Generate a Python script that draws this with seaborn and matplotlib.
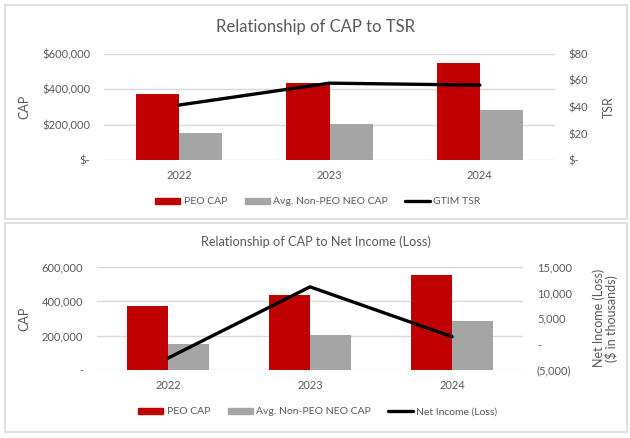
import numpy as np
import pandas as pd
import seaborn as sns
import matplotlib
matplotlib.use('Agg')
import matplotlib.pyplot as plt
from matplotlib.ticker import FuncFormatter
from matplotlib.patches import Rectangle, Patch
from matplotlib.lines import Line2D

# values
years = ['2022', '2023', '2024']
peo_cap = [372000, 438000, 550000]
neo_cap = [152000, 206000, 284000]
gtim_tsr = [41.5, 58.0, 56.5]
net_income = [-2700, 11100, 1450]  # $ in thousands

series = ['PEO CAP', 'Avg. Non-PEO NEO CAP']
colors = ['#C00000', '#A5A5A5']

cap_df = pd.DataFrame({'year': years * 2,
                       'cap': peo_cap + neo_cap,
                       'series': [series[0]] * 3 + [series[1]] * 3})

sns.set_theme(style='white')
plt.rcParams['font.family'] = ['Lato', 'DejaVu Sans']
txt = '#595959'
grid = '#D9D9D9'
W, H = 630, 438

fig = plt.figure(figsize=(6.3, 4.38), dpi=100)
fig.patch.set_facecolor('white')
#panel borders
for y0, y1 in [(5, 219), (223, 432)]:
    fig.patches.append(Rectangle((5 / W, 1 - y1 / H), 622 / W, (y1 - y0) / H,
                                 transform=fig.transFigure, fill=False,
                                 edgecolor=grid, lw=1.2))


def panel(box, left_ticks, left_fmt, right_lim, right_ticks, right_fmt, line_vals):
    x0, x1, ytop, ybot = box
    ax = fig.add_axes([x0 / W, 1 - ybot / H, (x1 - x0) / W, (ybot - ytop) / H])
    sns.barplot(data=cap_df, x='year', y='cap', hue='series', hue_order=series,
                palette=colors, saturation=1, width=0.575, linewidth=0,
                legend=False, ax=ax)
    ax.set_ylim(left_ticks[0], left_ticks[-1])
    ax.set_yticks(left_ticks)
    ax.yaxis.set_major_formatter(FuncFormatter(left_fmt))
    ax.yaxis.grid(True, color=grid, lw=1)
    ax.set_axisbelow(True)
    ax2 = ax.twinx()
    sns.pointplot(x=years, y=line_vals, ax=ax2, color='black', markers='',
                  linestyles='-', errorbar=None, linewidth=2.4)
    ax2.set_ylim(*right_lim)
    ax2.set_yticks(right_ticks)
    ax2.yaxis.set_major_formatter(FuncFormatter(right_fmt))
    ax.set_xlim(-0.5, 2.5)
    for a in (ax, ax2):
        for s in a.spines.values():
            s.set_visible(False)
        a.tick_params(axis='both', length=0, labelsize=8, labelcolor=txt)
        a.tick_params(axis='y', pad=10)
        a.tick_params(axis='x', pad=7)
        a.set_xlabel('')
    return ax, ax2


leg_kw = dict(loc='center', ncol=3, frameon=False, fontsize=7.5, labelcolor=txt,
              handlelength=2.4, handleheight=0.55, columnspacing=1.7, handletextpad=0.3)

# ---- top chart: CAP vs TSR
ax, ax2 = panel((104, 555, 54, 160), [0, 200000, 400000, 600000],
                lambda v, p: '$-' if v == 0 else '${:,.0f}'.format(v),
                (0, 80), [0, 20, 40, 60, 80],
                lambda v, p: '$-' if v == 0 else '${:.0f}'.format(v),
                gtim_tsr)
ax.set_ylabel('CAP', fontsize=9, color=txt)
ax.yaxis.set_label_coords(-0.164, 0.5)
ax2.set_ylabel('TSR', fontsize=9, color=txt)
ax2.yaxis.set_label_coords(1.106, 0.5)
fig.text(316 / W, 1 - 27 / H, 'Relationship of CAP to TSR', ha='center', va='center',
         fontsize=12, color=txt)

handles = [Patch(color=colors[0]), Patch(color=colors[1]), Line2D([], [], color='black', lw=2.4)]
fig.legend(handles, series + ['GTIM TSR'], bbox_to_anchor=(318 / W, 1 - 202 / H), **leg_kw)

# ---- bottom chart: CAP vs net income
bx, bx2 = panel((97, 523, 266.7, 370), [0, 200000, 400000, 600000],
                lambda v, p: '-' if v == 0 else '{:,.0f}'.format(v),
                (-5000, 15000), [-5000, 0, 5000, 10000, 15000],
                lambda v, p: '-' if v == 0 else ('({:,.0f})'.format(-v) if v < 0 else '{:,.0f}'.format(v)),
                net_income)
bx.set_ylabel('CAP', fontsize=9, color=txt)
bx.yaxis.set_label_coords(-0.157, 0.5)
bx2.set_ylabel('Net Income (Loss)\n($ in thousands)', fontsize=9, color=txt,
               multialignment='center', linespacing=1.0)
bx2.yaxis.set_label_coords(1.164, 0.5)
fig.text(316 / W, 1 - 241.7 / H, 'Relationship of CAP to Net Income (Loss)', ha='center',
         va='center', fontsize=9.2, color=txt)
fig.legend(handles, series + ['Net Income (Loss)'], bbox_to_anchor=(318 / W, 1 - 412 / H),
           **leg_kw)

fig.savefig('out.png', dpi=100, facecolor='white')
